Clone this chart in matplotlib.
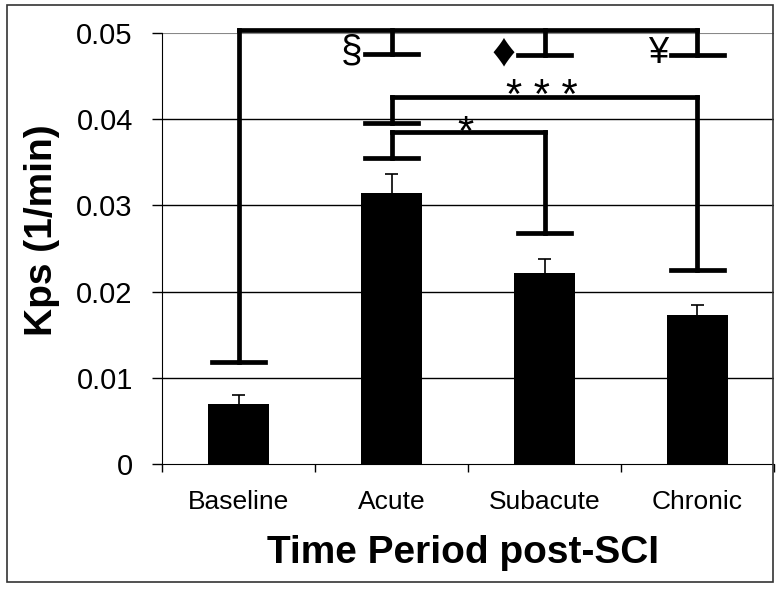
import matplotlib
matplotlib.use("Agg")
import matplotlib.pyplot as plt
from matplotlib.patches import Rectangle
import numpy as np

plt.rcParams['font.family'] = ['Liberation Sans', 'DejaVu Sans']

categories = ['Baseline', 'Acute', 'Subacute', 'Chronic']
means = [0.0070, 0.0314, 0.0222, 0.0173]
sems = [0.0010, 0.0022, 0.0016, 0.0011]

# significance brackets: (level, [(category index, end value), ...])
top_level = 0.0503
top_ends = [(0, 0.0118), (1, 0.0476), (2, 0.0474), (3, 0.0474)]
top_symbols = ['', '\u00a7', '\u2666', '\u00a5']
star3_level = 0.0426
star3_ends = [(1, 0.0396), (3, 0.0225)]
star1_level = 0.0385
star1_ends = [(1, 0.0355), (2, 0.0268)]

fig = plt.figure(figsize=(7.81, 5.91), dpi=100)
ax = fig.add_axes([162 / 781, 127 / 591, 612 / 781, 431 / 591])

x = np.arange(len(categories))
ax.bar(x, means, width=0.4, color='black', zorder=3)
# upper error bars only
tops = np.array(means) + np.array(sems)
ax.vlines(x, means, tops, color='black', lw=1.2, zorder=3)
ax.hlines(tops, x - 0.045, x + 0.045, color='black', lw=1.2, zorder=3)

ax.set_xlim(-0.5, 3.5)
ax.set_ylim(0, 0.05)
ax.set_yticks([0, 0.01, 0.02, 0.03, 0.04, 0.05])
ax.set_yticklabels(['0', '0.01', '0.02', '0.03', '0.04', '0.05'], fontsize=21)
ax.tick_params(axis='y', direction='out', length=7, width=1, pad=14)
for yv in [0.01, 0.02, 0.03, 0.04]:
    ax.axhline(yv, color='black', lw=1, zorder=1)
ax.axhline(0.05, color='#888888', lw=0.8, zorder=1)

ax.set_xticks(x)
ax.set_xticklabels(categories, fontsize=19)
ax.tick_params(axis='x', which='major', length=0, pad=19)
ax.set_xticks(np.arange(-0.5, 4, 1), minor=True)
ax.tick_params(axis='x', which='minor', direction='out', length=6, width=1)

ax.spines['top'].set_visible(False)
ax.spines['right'].set_visible(False)

bk = dict(color='black', lw=3.4, clip_on=False, zorder=4, solid_capstyle='projecting',
          solid_joinstyle='miter')
cap = 0.17


def bracket(level, ends):
    xs = [e[0] for e in ends]
    ax.plot([xs[0], xs[-1]], [level, level], **bk)
    for xi, yend in ends:
        ax.plot([xi, xi], [level, yend], **bk)
        ax.plot([xi - cap, xi + cap], [yend, yend], **bk)


bracket(top_level, top_ends)
bracket(star3_level, star3_ends)
bracket(star1_level, star1_ends)

sym_size = {'\u00a7': 28, '\u2666': 34, '\u00a5': 26}
for (xi, yend), s in zip(top_ends, top_symbols):
    if s:
        ax.text(xi - cap - 0.02, yend + 0.0002, s, fontsize=sym_size[s], ha='right',
                va='center', zorder=5)

ax.text(1.98, 0.0426, '* * *', fontsize=30, ha='center', va='center')
ax.text(1.48, 0.0383, '*', fontsize=30, ha='center', va='center')

fig.text(42 / 781, 1 - 230 / 591, 'Kps (1/min)', rotation=90, fontsize=28,
         fontweight='bold', ha='center', va='center')
fig.text(463 / 781, 1 - 563 / 591, 'Time Period post-SCI', fontsize=28,
         fontweight='bold', ha='center', va='baseline')

fig.patches.append(Rectangle((7 / 781, 1 - 582 / 591), 766 / 781, 577 / 591,
                             transform=fig.transFigure, fill=False,
                             edgecolor='#333333', lw=1.2))

fig.savefig('out.png', dpi=100)
